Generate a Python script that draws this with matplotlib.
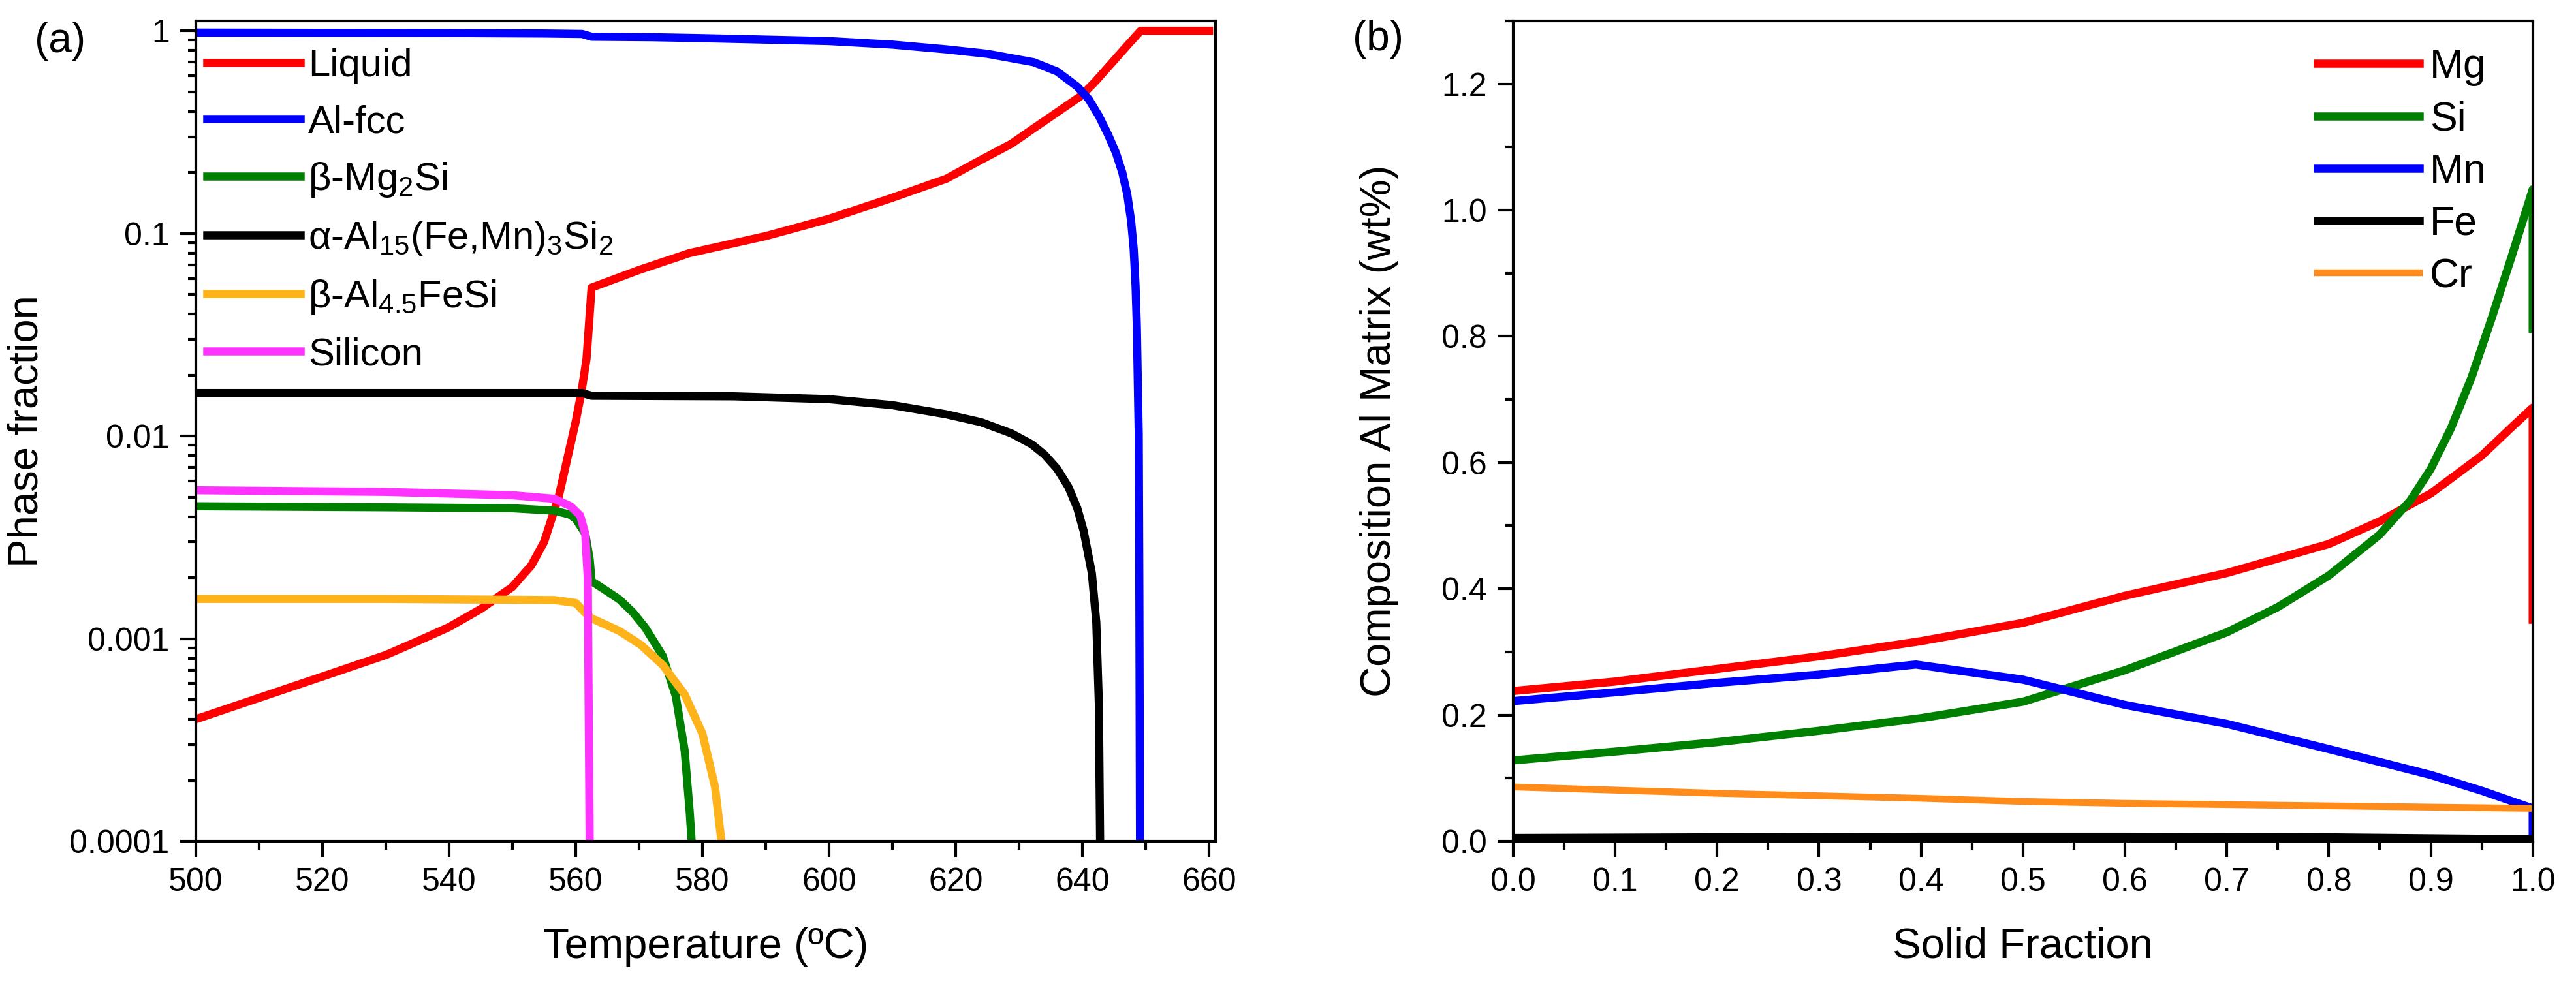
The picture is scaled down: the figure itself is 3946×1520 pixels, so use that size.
import numpy as np
import matplotlib
matplotlib.use("Agg")
import matplotlib.pyplot as plt
from matplotlib.ticker import MultipleLocator, FixedLocator, FuncFormatter, LogLocator, NullFormatter

plt.rcParams['font.family'] = ['Liberation Sans', 'DejaVu Sans']
plt.rcParams['mathtext.fontset'] = 'custom'
plt.rcParams['mathtext.rm'] = 'Liberation Sans'
plt.rcParams['mathtext.it'] = 'Liberation Sans:italic'
plt.rcParams['mathtext.default'] = 'rm'

#### DATA ####

# (a) phase fraction vs temperature
liq_T = [500, 510, 520, 530, 535, 540, 545, 550, 553, 555, 557.3, 560, 560.9,
         561.7, 562.5, 570, 578, 590, 600, 610, 614, 618.5, 623, 628.8, 632,
         635.7, 639.9, 642, 644.4, 647, 649.2, 660]
liq_f = [0.0004, 0.00051, 0.00065, 0.00083, 0.00097, 0.00114, 0.0014, 0.0018,
         0.0023, 0.0030, 0.0050, 0.0118, 0.0165, 0.024, 0.054, 0.066, 0.080,
         0.097, 0.118, 0.150, 0.166, 0.186, 0.222, 0.277, 0.325, 0.39, 0.48,
         0.56, 0.68, 0.84, 1.0, 1.0]

fcc_T = [500, 540, 555, 561, 562.5, 572, 580, 600, 610, 618.5, 625, 632.3,
         636, 639.2, 641, 642.6, 644, 645.3, 646.3, 647.1, 647.7, 648.1, 648.4,
         648.6, 648.9, 649.0, 649.1]
fcc_f = [0.98, 0.975, 0.97, 0.965, 0.935, 0.93, 0.92, 0.89, 0.855, 0.81, 0.77,
         0.70, 0.63, 0.53, 0.46, 0.38, 0.31, 0.25, 0.20, 0.155, 0.115, 0.084,
         0.055, 0.035, 0.0102, 0.0016, 0.0001]

mg2si_T = [500, 530, 550, 556.6, 559, 560, 561.5, 562.2, 562.5, 564.5, 566.9,
           569, 571, 573.75, 575.8, 577.2, 578.0, 578.3]
mg2si_f = [0.0045, 0.00445, 0.0044, 0.00428, 0.0041, 0.0039, 0.0033, 0.00247,
           0.00192, 0.00175, 0.00156, 0.00135, 0.00113, 0.00082, 0.00052,
           0.00028, 0.000139, 0.0001]

alpha_T = [500, 540, 561, 562.5, 585, 600, 610, 618.5, 624, 628.8, 632, 634.0,
           636, 637.8, 639.2, 640.2, 641.5, 642.2, 642.6, 642.8]
alpha_f = [0.0163, 0.0163, 0.0163, 0.0158, 0.0157, 0.0152, 0.0142, 0.0128,
           0.0117, 0.0103, 0.0091, 0.0081, 0.0069, 0.0056, 0.0044, 0.0034,
           0.0021, 0.0012, 0.00048, 0.0001]

beta_T = [500, 530, 556.6, 560, 561.4, 562.5, 566.9, 570.3, 573.75, 577.2,
          580, 582, 583]
beta_f = [0.00157, 0.00157, 0.00155, 0.0015, 0.00135, 0.00126, 0.00109,
          0.00093, 0.00074, 0.00053, 0.00034, 0.000185, 0.0001]

si_T = [500, 530, 550, 556.6, 559.2, 560.7, 561.5, 561.9, 562.0, 562.2]
si_f = [0.0054, 0.0053, 0.0051, 0.0049, 0.0045, 0.00405, 0.0033, 0.0020,
        0.00069, 0.0001]

# (b) Al matrix composition vs solid fraction
mg_fs = [0.0, 0.1, 0.2, 0.3, 0.4, 0.5, 0.6, 0.7, 0.8, 0.85, 0.9, 0.95, 0.98,
         0.99, 1.0, 1.0]
mg_wt = [0.238, 0.253, 0.273, 0.293, 0.317, 0.346, 0.389, 0.425, 0.471, 0.507,
         0.551, 0.611, 0.657, 0.672, 0.687, 0.351]

si_fs = [0.0, 0.1, 0.2, 0.3, 0.4, 0.5, 0.55, 0.6, 0.65, 0.7, 0.75, 0.8, 0.85,
         0.88, 0.9, 0.92, 0.94, 0.96, 0.98, 1.0, 1.0]
si_wt = [0.128, 0.142, 0.157, 0.175, 0.195, 0.221, 0.246, 0.271, 0.301, 0.331,
         0.371, 0.421, 0.486, 0.540, 0.590, 0.655, 0.735, 0.830, 0.930, 1.033,
         0.812]

mn_fs = [0.0, 0.1, 0.2, 0.3, 0.395, 0.5, 0.6, 0.7, 0.8, 0.9, 0.95, 1.0, 1.0]
mn_wt = [0.222, 0.236, 0.251, 0.264, 0.280, 0.256, 0.216, 0.186, 0.146, 0.105,
         0.080, 0.052, 0.01]

fe_fs = [0.0, 0.2, 0.4, 0.6, 0.8, 1.0]
fe_wt = [0.005, 0.006, 0.007, 0.007, 0.006, 0.003]

cr_fs = [0.0, 0.1, 0.2, 0.4, 0.5, 0.6, 0.8, 1.0]
cr_wt = [0.086, 0.081, 0.076, 0.068, 0.063, 0.060, 0.056, 0.052]

#### FIGURE ####

fig = plt.figure(figsize=(39.46, 15.2), dpi=100)
ax1 = fig.add_axes([0.0760, 0.1520, 0.3958, 0.8270])
ax2 = fig.add_axes([0.5874, 0.1520, 0.3958, 0.8270])

tick_fs = 36
label_fs = 47
lw = 9

# panel (a)
ax1.plot(liq_T, liq_f, color='#ff0000', lw=lw, label='Liquid')
ax1.plot(fcc_T, fcc_f, color='#0000ff', lw=lw, label='Al-fcc')
ax1.plot(mg2si_T, mg2si_f, color='#008000', lw=lw, label='β-Mg$_2$Si')
ax1.plot(alpha_T, alpha_f, color='#000000', lw=lw,
         label='α-Al$_{15}$(Fe,Mn)$_3$Si$_2$')
ax1.plot(beta_T, beta_f, color='#ffb31a', lw=lw, label='β-Al$_{4.5}$FeSi')
ax1.plot(si_T, si_f, color='#ff33ff', lw=lw, label='Silicon')

ax1.set_yscale('log')
ax1.set_xlim(500, 661)
ax1.set_ylim(1e-4, 1.12)
ax1.xaxis.set_major_locator(MultipleLocator(20))
ax1.xaxis.set_minor_locator(MultipleLocator(10))
ax1.yaxis.set_major_locator(FixedLocator([1e-4, 1e-3, 1e-2, 1e-1, 1]))
ax1.yaxis.set_major_formatter(FuncFormatter(lambda v, p: '{:g}'.format(v)))
ax1.yaxis.set_minor_locator(LogLocator(base=10, subs=np.arange(2, 10)))
ax1.yaxis.set_minor_formatter(NullFormatter())
ax1.set_xlabel('Temperature (ºC)', fontsize=label_fs)
ax1.set_ylabel('Phase fraction', fontsize=label_fs)
ax1.legend(loc='upper left', bbox_to_anchor=(-0.012, 0.995), frameon=False,
           fontsize=43, handlelength=2.4, handletextpad=0.2, labelspacing=0.52,
           borderaxespad=0.2)

# panel (b)
ax2.plot(mg_fs, mg_wt, color='#ff0000', lw=9, label='Mg')
ax2.plot(si_fs, si_wt, color='#008000', lw=9, label='Si')
ax2.plot(mn_fs, mn_wt, color='#0000ff', lw=9, label='Mn')
ax2.plot(fe_fs, fe_wt, color='#000000', lw=9, label='Fe')
ax2.plot(cr_fs, cr_wt, color='#ff8c1a', lw=7.5, label='Cr')

ax2.set_xlim(0, 1.0)
ax2.set_ylim(0, 1.3)
ax2.xaxis.set_major_locator(MultipleLocator(0.1))
ax2.xaxis.set_minor_locator(MultipleLocator(0.05))
ax2.yaxis.set_major_locator(MultipleLocator(0.2))
ax2.yaxis.set_minor_locator(MultipleLocator(0.1))
ax2.xaxis.set_major_formatter(FuncFormatter(lambda v, p: '{:.1f}'.format(v)))
ax2.yaxis.set_major_formatter(FuncFormatter(lambda v, p: '{:.1f}'.format(v)))
ax2.set_xlabel('Solid Fraction', fontsize=label_fs)
ax2.set_ylabel('Composition Al Matrix (wt%)', fontsize=label_fs)
ax2.legend(loc='upper left', bbox_to_anchor=(0.765, 0.997), frameon=False,
           fontsize=45, handlelength=2.5, handletextpad=0.25, labelspacing=0.34,
           borderaxespad=0.2)

for ax in (ax1, ax2):
    for sp in ax.spines.values():
        sp.set_linewidth(3)
    ax.tick_params(which='major', direction='out', length=17, width=3,
                   labelsize=tick_fs, pad=12)
    ax.tick_params(which='minor', direction='out', length=9, width=3)
    ax.tick_params(top=False, right=False, which='both')

ax1.xaxis.set_label_coords(0.5, -0.105)
ax2.xaxis.set_label_coords(0.5, -0.105)
ax1.yaxis.set_label_coords(-0.147, 0.5)
ax2.yaxis.set_label_coords(-0.112, 0.5)

fig.text(92 / 3946, 1 - 63 / 1520, '(a)', fontsize=46, ha='center', va='center')
fig.text(2111 / 3946, 1 - 60 / 1520, '(b)', fontsize=46, ha='center', va='center')

fig.savefig('out.png', dpi=100)
plt.close()
